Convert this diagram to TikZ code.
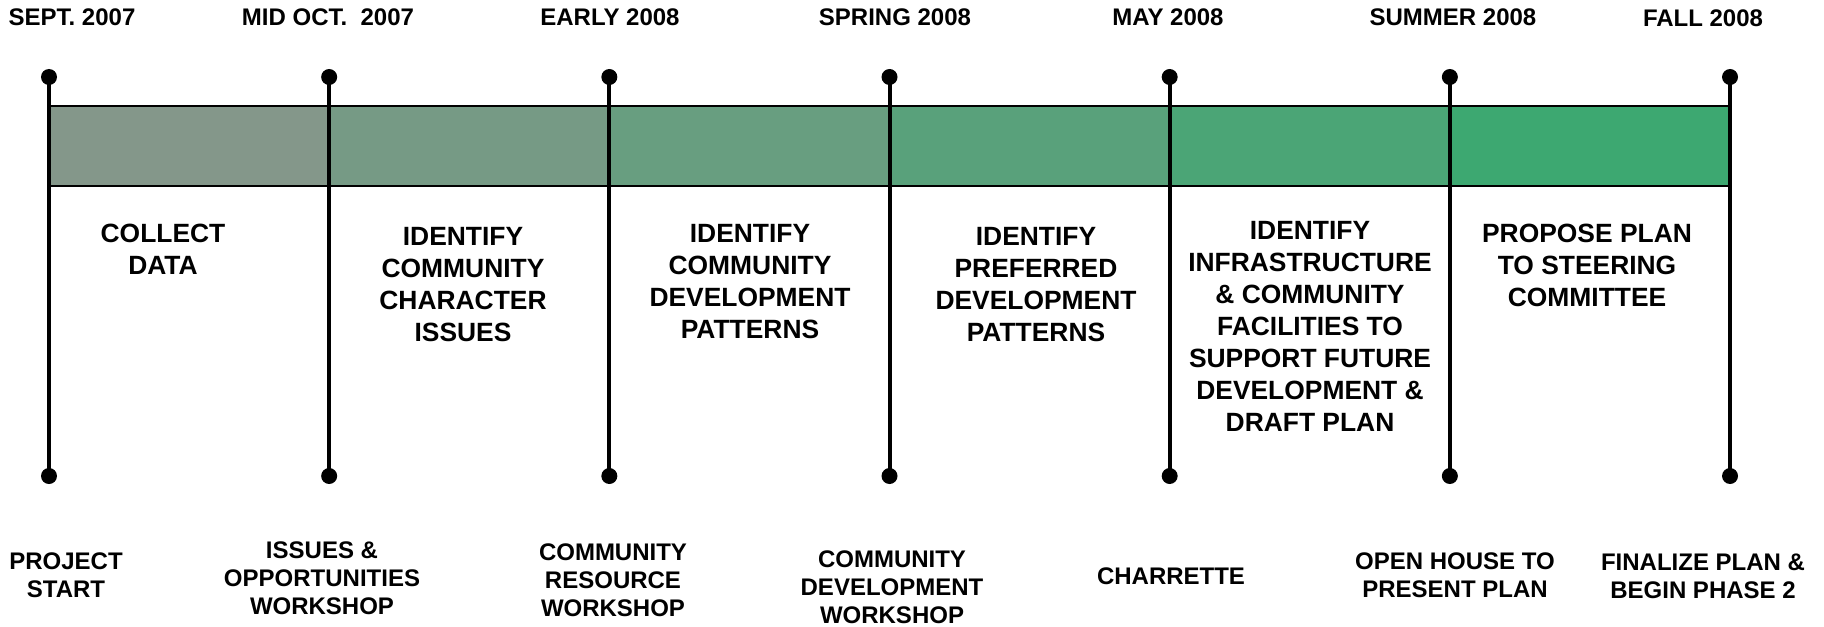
\documentclass[tikz,border=0pt]{standalone}
\usepackage{fontspec}
\setmainfont{Liberation Sans}

\definecolor{barstart}{RGB}{132,151,138}
\definecolor{barend}{RGB}{61,168,113}

\tikzset{
  tick/.style={line width=2pt},
  datelabel/.style={font=\bfseries\fontsize{12}{14}\selectfont,inner sep=0pt},
  task/.style={font=\bfseries\fontsize{13.2}{16}\selectfont,align=center,anchor=north,inner sep=0pt},
  event/.style={font=\bfseries\fontsize{12}{14}\selectfont,align=center,inner sep=0pt}
}

\begin{document}
\begin{tikzpicture}[x=0.5pt,y=-0.5pt]
      \useasboundingbox (0,0) rectangle (1824,626);

      % bar segments
      \foreach \i in {0,...,5}{
        \pgfmathtruncatemacro{\p}{20*\i}
        \draw[line width=1.2pt,fill=barend!\p!barstart]
          (49+280.17*\i,106) rectangle (49+280.17*\i+280.17,186);
      }

      \begin{scope}[every node/.style={circle,fill,inner sep=0pt,minimum size=8pt}]
        \foreach \i in {0,...,6}{
          \node (t\i) at (49+280.17*\i,77) {};
          \node (b\i) at (49+280.17*\i,476) {};
          \draw[tick] (t\i.center) -- (b\i.center);
        }
      \end{scope}

      \node[datelabel] (d0) at (72,17) {SEPT. 2007};
      \node[datelabel] (d1) at (328,17) {MID OCT.\ \ 2007};
      \node[datelabel] (d2) at (610,17) {EARLY 2008};
      \node[datelabel] (d3) at (895,17) {SPRING 2008};
      \node[datelabel] (d4) at (1168,17) {MAY 2008};
      \node[datelabel] (d5) at (1453,17) {SUMMER 2008};
      \node[datelabel] (d6) at (1703,18) {FALL 2008};

      \node[task] (s0) at (163,224) {COLLECT\\DATA};
      \node[task] (s1) at (463,227) {IDENTIFY\\COMMUNITY\\CHARACTER\\ISSUES};
      \node[task] (s2) at (750,224) {IDENTIFY\\COMMUNITY\\DEVELOPMENT\\PATTERNS};
      \node[task] (s3) at (1036,227) {IDENTIFY\\PREFERRED\\DEVELOPMENT\\PATTERNS};
      \node[task] (s4) at (1310,221) {IDENTIFY\\INFRASTRUCTURE\\\& COMMUNITY\\FACILITIES TO\\SUPPORT FUTURE\\DEVELOPMENT \&\\DRAFT PLAN};
      \node[task] (s5) at (1587,224) {PROPOSE PLAN\\TO STEERING\\COMMITTEE};

      \node[event] (e0) at (66,575) {PROJECT\\START};
      \node[event] (e1) at (322,578) {ISSUES \&\\OPPORTUNITIES\\WORKSHOP};
      \node[event] (e2) at (613,580) {COMMUNITY\\RESOURCE\\WORKSHOP};
      \node[event] (e3) at (892,587) {COMMUNITY\\DEVELOPMENT\\WORKSHOP};
      \node[event] (e4) at (1171,576) {CHARRETTE};
      \node[event] (e5) at (1455,575) {OPEN HOUSE TO\\PRESENT PLAN};
      \node[event] (e6) at (1703,576) {FINALIZE PLAN \&\\BEGIN PHASE 2};

    \end{tikzpicture}
\end{document}
